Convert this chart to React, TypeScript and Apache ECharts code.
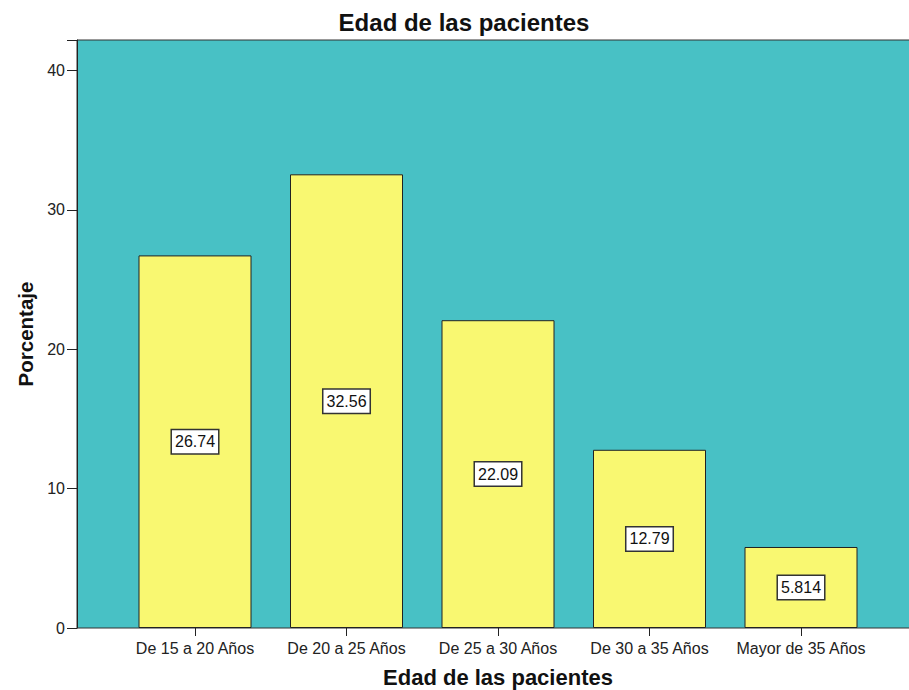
import React, { useEffect, useRef } from "react";
import * as echarts from "echarts";

const categories = ["De 15 a 20 Años", "De 20 a 25 Años", "De 25 a 30 Años", "De 30 a 35 Años", "Mayor de 35 Años"];
const values = [26.74, 32.56, 22.09, 12.79, 5.814];
const yTicks = [0, 10, 20, 30, 40];
const title = "Edad de las pacientes";
const yName = "Porcentaje";
const xName = "Edad de las pacientes";

export default function App() {
  const ref = useRef<HTMLDivElement>(null);
  useEffect(() => {
    if (!ref.current) return;
    const chart = echarts.init(ref.current, null, { renderer: "svg" });
    const font = "Liberation Sans, Arial, sans-serif";
    const yMax = 42.2;
    chart.setOption({
      animation: false,
      backgroundColor: "#ffffff",
      title: {
        text: title,
        left: 459,
        top: 5,
        textAlign: "center",
        textStyle: { fontFamily: font, fontSize: 24, fontWeight: "bold", color: "#111" },
      },
      grid: [
        { left: 77, right: -2, top: 40, bottom: 62, outerBoundsMode: "none", containLabel: false, show: true, backgroundColor: "#48C1C5", borderColor: "#333", borderWidth: 1 },
        { left: 119.25, width: 757.5, top: 40, bottom: 62, outerBoundsMode: "none", containLabel: false },
      ],
      xAxis: [
        {
          type: "category",
          gridIndex: 0,
          data: categories,
          show: false,
        },
        {
          type: "category",
          gridIndex: 1,
          data: categories,
          name: xName,
          nameLocation: "middle",
          nameGap: 38,
          nameTextStyle: { fontFamily: font, fontSize: 22, fontWeight: "bold", color: "#111" },
          axisLine: { show: false },
          axisTick: { show: true, alignWithLabel: true, length: 8, lineStyle: { color: "#222" } },
          axisLabel: { fontFamily: font, fontSize: 16, color: "#222", margin: 12, interval: 0 },
        },
      ],
      yAxis: [
        {
          type: "value",
          gridIndex: 0,
          min: 0,
          max: yMax,
          interval: 10,
          name: yName,
          nameLocation: "middle",
          nameGap: 38,
          nameTextStyle: { fontFamily: font, fontSize: 20.5, fontWeight: "bold", color: "#111" },
          axisLine: { show: true, lineStyle: { color: "#222" } },
          axisTick: { show: true, length: 10, lineStyle: { color: "#222" } },
          axisLabel: {
            fontFamily: font,
            fontSize: 16,
            color: "#222",
            margin: 12,
            formatter: (v: number) => (yTicks.includes(v) ? String(v) : ""),
          },
          splitLine: { show: false },
        },
        {
          type: "value",
          gridIndex: 1,
          min: 0,
          max: yMax,
          show: false,
          splitLine: { show: false },
        },
      ],
      series: [
        {
          type: "bar",
          xAxisIndex: 1,
          yAxisIndex: 1,
          data: values,
          barWidth: 113,
          itemStyle: { color: "#F9F871", borderColor: "#222", borderWidth: 1 },
          label: {
            show: true,
            position: "inside",
            formatter: (p: any) => String(p.value),
            fontFamily: font,
            fontSize: 16,
            color: "#111",
            backgroundColor: "#ffffff",
            borderColor: "#333",
            borderWidth: 1.5,
            padding: [4, 3, 3, 3],
          },
        },
      ],
    });
    return () => chart.dispose();
  }, []);
  return <div ref={ref} style={{ position: "fixed", left: 0, top: 0, width: 909, height: 690 }} />;
}
